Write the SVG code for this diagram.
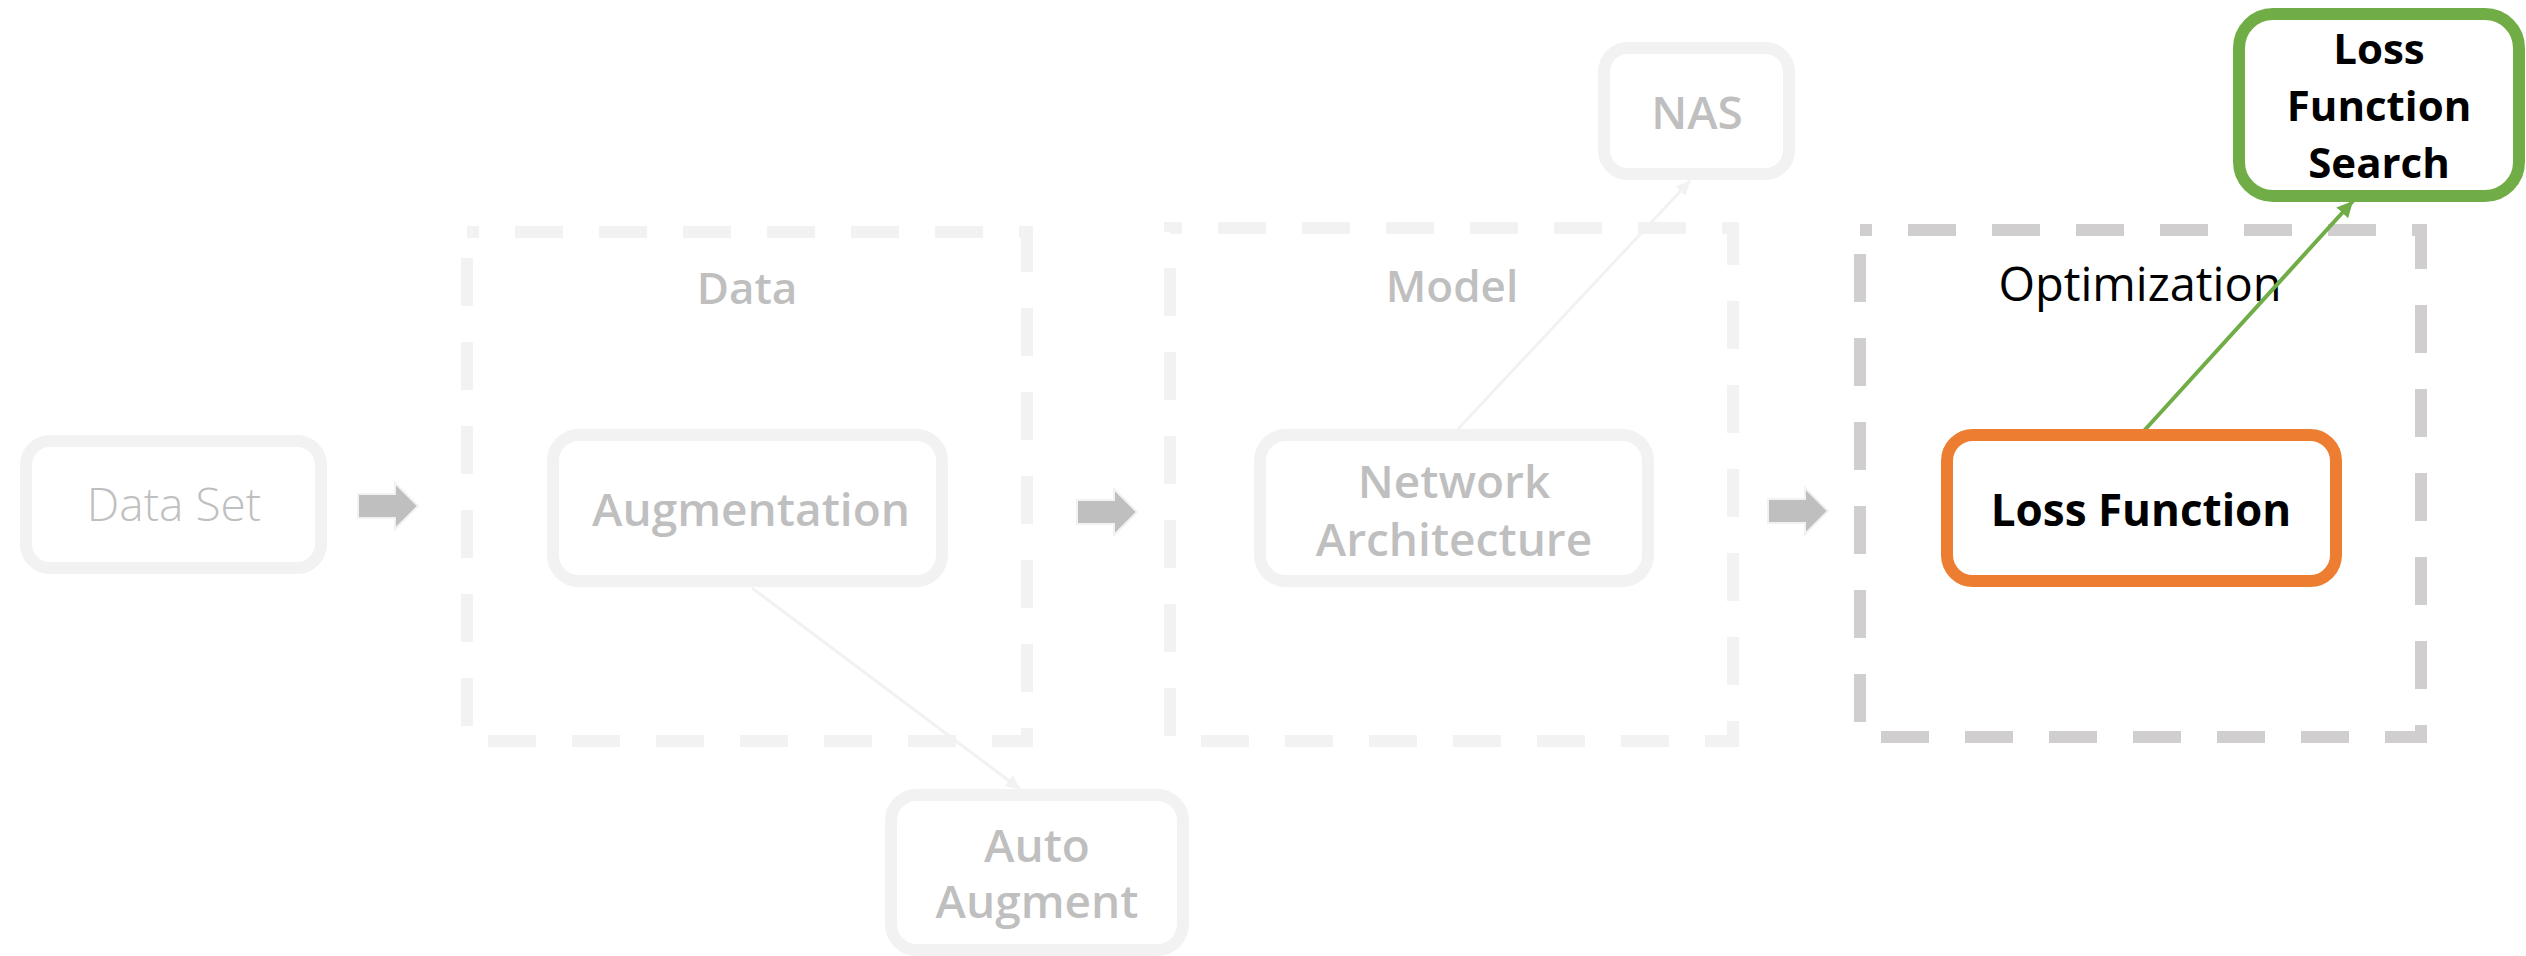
<svg xmlns="http://www.w3.org/2000/svg" width="2526" height="956" viewBox="0 0 2526 956">
  <style>
    .box { fill: #ffffff; stroke: #f2f2f2; stroke-width: 12; }
    .box-orange { fill: #ffffff; stroke: #ed7d31; stroke-width: 12; }
    .box-green { fill: #ffffff; stroke: #70ad47; stroke-width: 12; }
    .group { fill: none; stroke: #f2f2f2; stroke-width: 12; stroke-dasharray: 48 36; stroke-dashoffset: 36; }
    .group-active { stroke: #d0cece; }
    .flow { fill: #bfbfbf; stroke: #f2f2f2; stroke-width: 2; }
    .link { fill: none; stroke: #f2f2f2; stroke-width: 3; }
    .link-green { fill: none; stroke: #70ad47; stroke-width: 4; }
    .lbl { font-family: "Open Sans", "Liberation Sans", sans-serif; text-anchor: middle; }
    .dim { fill: #bfbfbf; font-weight: 600; }
    .light { fill: #bfbfbf; font-weight: 300; }
    .dark { fill: #000000; }
  </style>
  <defs>
    <marker id="head-grey" markerUnits="userSpaceOnUse" markerWidth="16" markerHeight="14" refX="14" refY="7" orient="auto">
      <path d="M0,0 L14,7 L0,14 z" fill="#f2f2f2"/>
    </marker>
    <marker id="head-green" markerUnits="userSpaceOnUse" markerWidth="18" markerHeight="16" refX="16" refY="8" orient="auto">
      <path d="M0,0 L16,8 L0,16 z" fill="#70ad47"/>
    </marker>
    <path id="block-arrow" d="M0,-12 L37,-12 L37,-23 L60,0 L37,23 L37,12 L0,12 z"/>
  </defs>

  <rect width="2526" height="956" fill="#ffffff"/>

  <!-- stage groups -->
  <g id="group-data">
    <rect class="group" x="467" y="232" width="560" height="509"/>
    <text class="lbl dim" x="747" y="304" font-size="44">Data</text>
  </g>
  <g id="group-model">
    <rect class="group" x="1170" y="228" width="563" height="513"/>
    <text class="lbl dim" x="1452" y="302" font-size="44">Model</text>
  </g>
  <g id="group-optimization">
    <rect class="group group-active" x="1860" y="230" width="561" height="507"/>
    <text class="lbl dark" x="2140" y="301" font-size="47" font-weight="500">Optimization</text>
  </g>

  <!-- connectors -->
  <g id="connectors">
    <use href="#block-arrow" class="flow" x="358" y="506"/>
    <use href="#block-arrow" class="flow" x="1077" y="512"/>
    <use href="#block-arrow" class="flow" x="1768" y="511"/>
    <line class="link" x1="752" y1="588" x2="1020" y2="789" marker-end="url(#head-grey)"/>
    <line class="link" x1="1458" y1="429" x2="1690" y2="181" marker-end="url(#head-grey)"/>
    <line class="link-green" x1="2142" y1="433" x2="2353" y2="201" marker-end="url(#head-green)"/>
  </g>

  <!-- nodes -->
  <g id="node-dataset">
    <rect class="box" x="26" y="441" width="295" height="127" rx="24"/>
    <text class="lbl light" x="174" y="521" font-size="46">Data Set</text>
  </g>
  <g id="node-augmentation">
    <rect class="box" x="553" y="435" width="389" height="146" rx="26"/>
    <text class="lbl dim" x="751" y="526" font-size="46">Augmentation</text>
  </g>
  <g id="node-autoaugment">
    <rect class="box" x="891" y="795" width="292" height="155" rx="26"/>
    <text class="lbl dim" x="1037" y="862" font-size="46">Auto</text>
    <text class="lbl dim" x="1037" y="918" font-size="46">Augment</text>
  </g>
  <g id="node-network">
    <rect class="box" x="1260" y="435" width="388" height="146" rx="26"/>
    <text class="lbl dim" x="1454" y="498" font-size="46">Network</text>
    <text class="lbl dim" x="1454" y="556" font-size="46">Architecture</text>
  </g>
  <g id="node-nas">
    <rect class="box" x="1604" y="48" width="185" height="126" rx="24"/>
    <text class="lbl dim" x="1697" y="129" font-size="46">NAS</text>
  </g>
  <g id="node-loss">
    <rect class="box-orange" x="1947" y="435" width="389" height="146" rx="26"/>
    <text class="lbl dark" x="2141" y="526" font-size="44" font-weight="700">Loss Function</text>
  </g>
  <g id="node-loss-search">
    <rect class="box-green" x="2239" y="14" width="280" height="182" rx="34"/>
    <text class="lbl dark" x="2379" y="64" font-size="42" font-weight="700">Loss</text>
    <text class="lbl dark" x="2379" y="121" font-size="42" font-weight="700">Function</text>
    <text class="lbl dark" x="2379" y="178" font-size="42" font-weight="700">Search</text>
  </g>
</svg>
